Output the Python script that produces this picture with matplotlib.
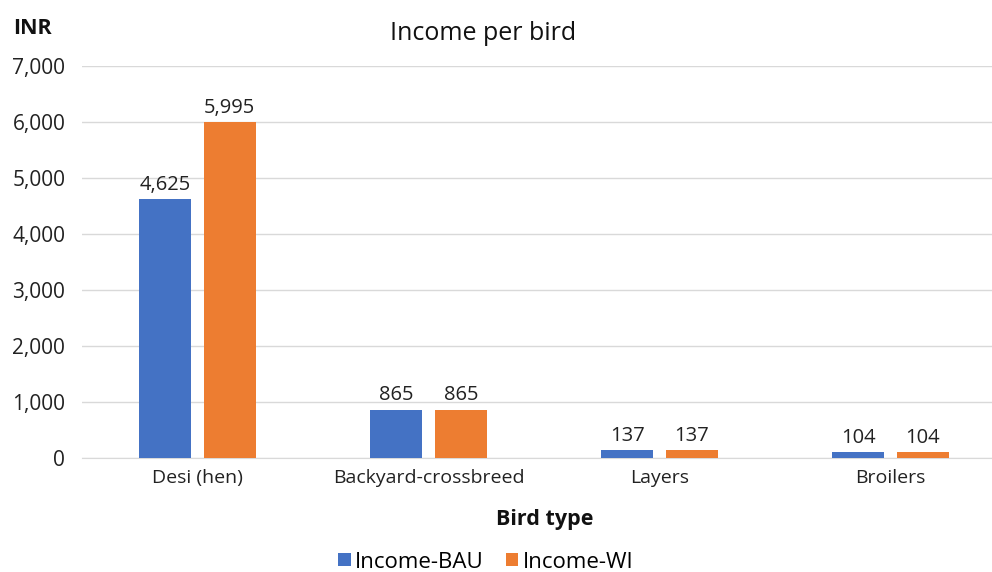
import matplotlib.pyplot as plt
import numpy as np

categories = ["Desi (hen)", "Backyard-crossbreed", "Layers", "Broilers"]
income_bau = [4625, 865, 137, 104]
income_wi = [5995, 865, 137, 104]
yticks = [0, 1000, 2000, 3000, 4000, 5000, 6000, 7000]

plt.rcParams["font.family"] = ["Open Sans", "DejaVu Sans"]

BLUE = "#4472C4"
ORANGE = "#ED7D31"

fig = plt.figure(figsize=(9.92, 5.72), dpi=100)
ax = fig.add_axes([82 / 992, 114 / 572, 924 / 992, 392 / 572])

x = np.arange(len(categories))
w = 0.225
off = 0.14
b1 = ax.bar(x - off, income_bau, w, color=BLUE, label="Income-BAU", zorder=3)
b2 = ax.bar(x + off, income_wi, w, color=ORANGE, label="Income-WI", zorder=3)

for bars in (b1, b2):
    for r in bars:
        ax.annotate(f"{int(r.get_height()):,}",
                    (r.get_x() + r.get_width() / 2, r.get_height()),
                    xytext=(0, 3), textcoords="offset points",
                    ha="center", va="bottom", fontsize=14.5, color="#222222")

ax.set_xlim(-0.5, len(categories) - 0.5)
ax.set_ylim(0, 7000)
ax.set_yticks(yticks)
ax.set_yticklabels([f"{v:,}" for v in yticks], fontsize=15, color="#222222")
ax.set_xticks(x)
ax.set_xticklabels(categories, fontsize=14, color="#222222")
ax.tick_params(axis="both", length=0)
ax.tick_params(axis="y", pad=12)
ax.tick_params(axis="x", pad=8)
ax.grid(axis="y", color="#D9D9D9", linewidth=1, zorder=0)
for s in ["top", "right", "left"]:
    ax.spines[s].set_visible(False)
ax.spines["bottom"].set_color("#D9D9D9")

fig.text(483 / 992, 1 - 33 / 572, "Income per bird", ha="center", va="center",
         fontsize=18, color="#111111")
fig.text(13 / 992, 1 - 28 / 572, "INR", ha="left", va="center",
         fontsize=15.5, fontweight="bold", color="#111111")
fig.text(545 / 992, 1 - 520 / 572, "Bird type", ha="center", va="center",
         fontsize=15.5, fontweight="bold", color="#111111")

fig.legend(handles=[b1, b2], loc="center", bbox_to_anchor=(486 / 992, 1 - 562 / 572),
           ncol=2, frameon=False, fontsize=16, handlelength=0.55, handleheight=0.55,
           handletextpad=0.2, columnspacing=1.0)

fig.savefig("out.png", dpi=100)
